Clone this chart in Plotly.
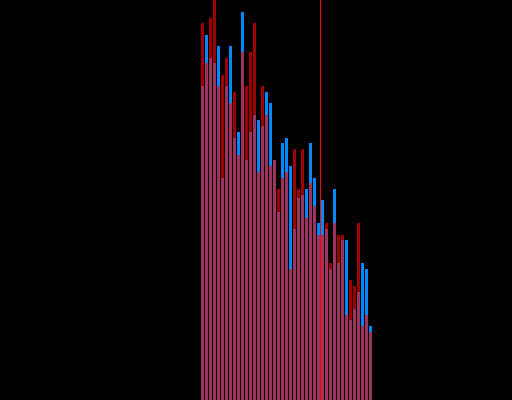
import plotly.graph_objects as go

# bin centres (index) and counts for the two overlaid histograms
bins = list(range(43))
red_counts = [377, 337, 382, 405, 314, 325, 342, 297, 308, 245, 348, 314, 348, 377, 228,
              314, 285, 234, 240, 211, 222, 228, 131, 251, 211, 251, 182, 217, 194, 165,
              165, 177, 137, 177, 165, 165, 85, 120, 114, 177, 74, 85, 68]
blue_counts = [314, 365, 342, 337, 354, 222, 314, 354, 262, 268, 388, 240, 268, 285, 280,
               274, 308, 297, 240, 188, 257, 262, 234, 171, 202, 205, 211, 257, 222, 177,
               200, 171, 131, 211, 137, 160, 160, 80, 91, 108, 137, 131, 74]
marker_x = 29.5

fig = go.Figure()
fig.add_trace(go.Bar(x=bins, y=blue_counts, marker_color='#0088ff',
                     marker_line_width=0, name='blue'))
fig.add_trace(go.Bar(x=bins, y=red_counts, marker_color='#ff0000', opacity=0.62,
                     marker_line_width=0, name='red'))

# vertical marker, drawn on top of the bars
fig.add_shape(type='line', x0=marker_x, x1=marker_x, y0=0, y1=1, yref='paper',
              line=dict(color='#ff0000', width=1))

fig.update_layout(
    width=512, height=400,
    margin=dict(l=0, r=0, t=0, b=0),
    paper_bgcolor='black', plot_bgcolor='black',
    barmode='overlay', bargap=0.25,
    showlegend=False,
    xaxis=dict(visible=False, range=[-50.625, 77.375]),
    yaxis=dict(visible=False, range=[0, 400]),
)

# page fills the window: no default body margin, black behind the plot
page_css = ("document.body.style.margin='0';"
            "document.body.style.background='black';"
            "document.body.style.overflow='hidden';")
fig.write_html("out.html", config={'displayModeBar': False}, post_script=page_css)
